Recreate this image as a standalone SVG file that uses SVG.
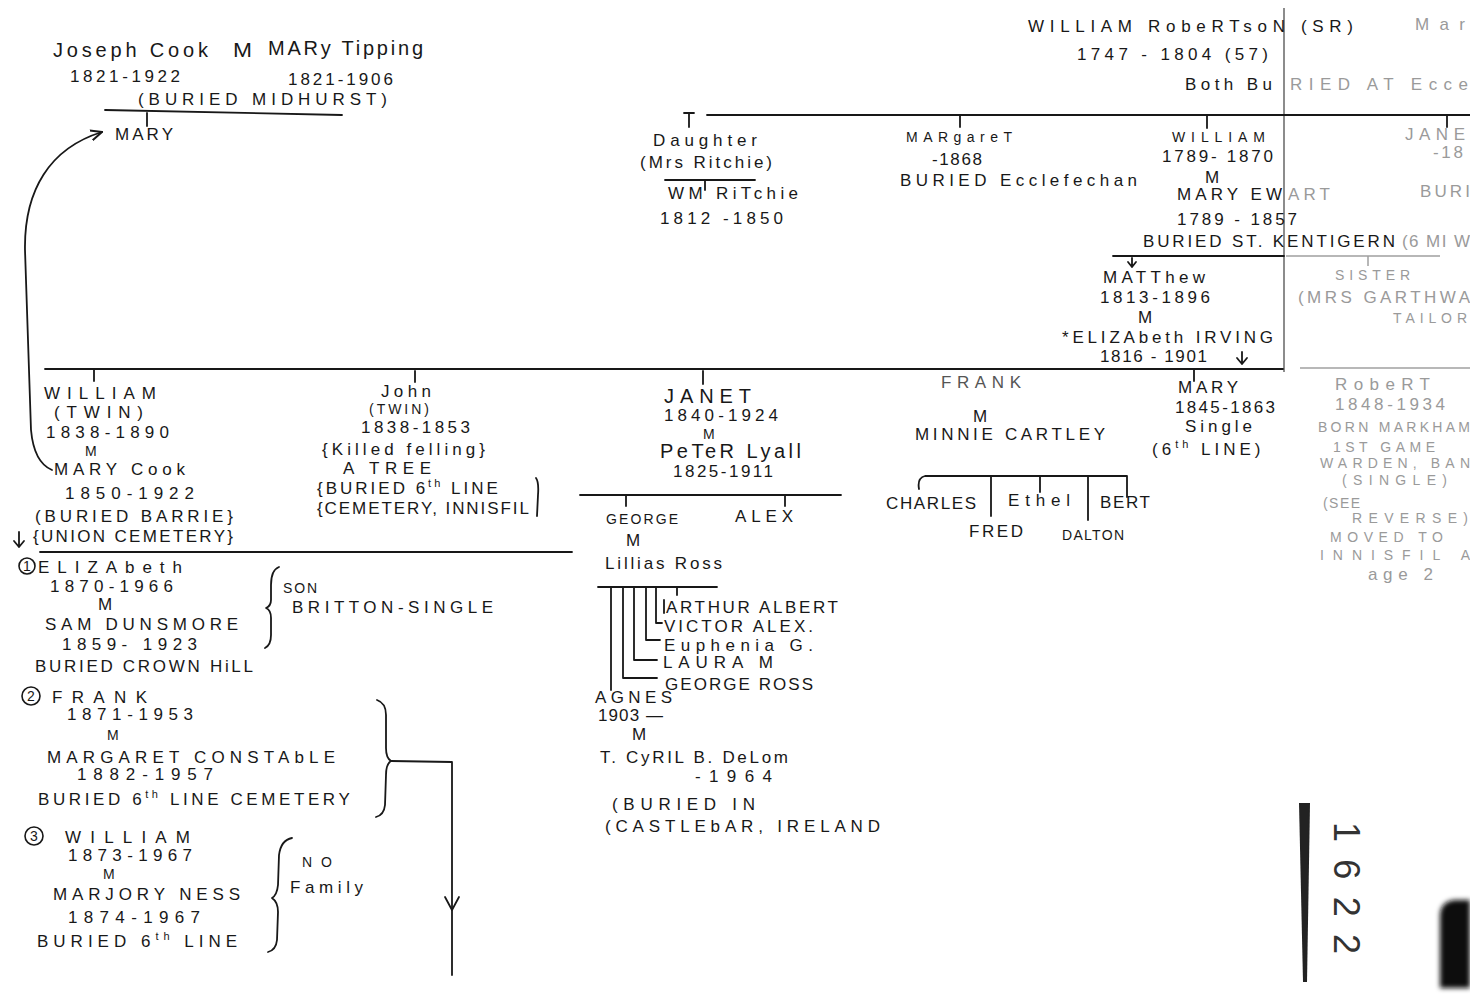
<svg xmlns="http://www.w3.org/2000/svg" width="1470" height="996" viewBox="0 0 1470 996">
<defs>
<style>
text{font-family:"Liberation Sans","DejaVu Sans",sans-serif;font-size:17px;fill:#181818}
.s{font-size:14px}
.b{font-size:20px}
.f{fill:#9a9a9a}
.g{fill:#555}
.sup{font-size:11px}
.ln{stroke:#181818;stroke-width:1.8;fill:none;stroke-linecap:round;stroke-linejoin:round}
.fl{stroke:#a0a0a0;stroke-width:1.5;fill:none}
</style>
<marker id="ah" viewBox="0 0 10 10" refX="9" refY="5" markerWidth="7" markerHeight="7" orient="auto"><path d="M0,1 L9,5 L0,9" fill="none" stroke="#181818" stroke-width="1.6"/></marker>
<filter id="bl" x="-20%" y="-20%" width="140%" height="140%"><feGaussianBlur stdDeviation="2.5"/></filter>
</defs>
<rect width="1470" height="996" fill="#fff"/>

<g id="connectors">
  <path d="M1284 8 V372" stroke="#666" stroke-width="1.5" fill="none"/>
  <path class="ln" d="M105 110 L342 115"/>
  <path class="ln" d="M147 113 V126"/>
  <path class="ln" d="M52 470 C40 465 33 452 31 430 L25 250 C24 190 50 148 102 132" marker-end="url(#ah)"/>
  <path class="ln" d="M707 115 H1470"/>
  <path class="ln" d="M684 113 H694 M689 113 V127"/>
  <path class="ln" d="M960 115 V127"/>
  <path class="ln" d="M1207 115 V128"/>
  <path class="ln" d="M1447 115 V127"/>
  <path class="ln" d="M665 180 H755 M705 180 V190"/>
  <path class="ln" d="M1113 256 H1284"/>
  <path class="fl" d="M1286 256 H1440 M1368 256 V266"/>
  <path class="ln" d="M1132 258 V267 M1128 262 L1132 267 L1136 262"/>
  <path class="ln" d="M45 369 H1283"/>
  <path class="fl" d="M1300 368 H1470"/>
  <path class="ln" d="M1242 352 V364 M1237 358 L1242 364 L1247 358"/>
  <path class="ln" d="M94 370 V381 M415 371 V382 M703 371 V384 M1194 370 V381"/>
  <path class="ln" d="M19 532 V547 M14 541 L19 547 L24 541"/>
  <path class="ln" d="M40 552 H572"/>
  <path class="ln" d="M536 478 Q539 482 538 495 L537 516"/>
  <path class="ln" d="M580 495 H841 M626 495 V506 M785 495 V506"/>
  <path class="ln" d="M598 587 H717 M677 587 V595"/>
  <path class="ln" d="M611 587 V690"/>
  <path class="ln" d="M623 587 V678 H657"/>
  <path class="ln" d="M634 587 V660 H657"/>
  <path class="ln" d="M646 587 V640 H660"/>
  <path class="ln" d="M656 587 V623 H662"/>
  <path class="ln" d="M664 600 V613"/>
  <path class="ln" d="M919 489 Q917 478 925 476 H1127 V497"/>
  <path class="ln" d="M991 476 V516 M1040 476 V492 M1088 476 V520"/>
  <path class="ln" d="M279 567 Q271 570 271 585 L271 600 Q271 606 266 608 Q271 610 271 618 L271 635 Q271 645 265 648"/>
  <path class="ln" d="M377 700 Q386 703 386 715 L386 748 Q386 758 391 761 Q386 764 386 775 L385 805 Q384 815 376 817"/>
  <path class="ln" d="M391 761 L452 762 L452 975"/>
  <path class="ln" d="M445 897 L452 910 L459 897"/>
  <path class="ln" d="M292 838 Q281 840 279 855 L278 885 Q277 895 272 898 Q278 902 278 912 L277 940 Q276 950 268 952"/>
</g>

<g id="cook-parents">
  <text class="b" x="53" y="57" textLength="155" lengthAdjust="spacing">Joseph Cook</text>
  <text class="b" x="233" y="57" textLength="19" lengthAdjust="spacingAndGlyphs">M</text>
  <text class="b" x="268" y="55" textLength="155" lengthAdjust="spacing">MARy Tipping</text>
  <text x="70" y="82" textLength="110" lengthAdjust="spacing">1821-1922</text>
  <text x="288" y="85" textLength="105" lengthAdjust="spacing">1821-1906</text>
  <text x="138" y="105" textLength="249" lengthAdjust="spacing">(BURIED MIDHURST)</text>
</g>
<g id="mary-cook-top">
  <text x="115" y="140" textLength="58" lengthAdjust="spacing">MARY</text>
</g>

<g id="william-robertson-sr">
  <text x="1028" y="32" textLength="325" lengthAdjust="spacing">WILLIAM RobeRTsoN (SR)</text>
  <text class="f" x="1415" y="30" textLength="50" lengthAdjust="spacing">Mar</text>
  <text x="1077" y="60" textLength="191" lengthAdjust="spacing">1747 - 1804 (57)</text>
  <text x="1185" y="90"><tspan textLength="87" lengthAdjust="spacing">Both Bu</tspan><tspan class="f" x="1290" textLength="178" lengthAdjust="spacing">RIED AT Ecce</tspan></text>
</g>

<g id="daughter-ritchie">
  <text x="653" y="146" textLength="104" lengthAdjust="spacing">Daughter</text>
  <text x="640" y="168" textLength="132" lengthAdjust="spacing">(Mrs Ritchie)</text>
  <text x="668" y="199" textLength="130" lengthAdjust="spacing">WM RiTchie</text>
  <text x="660" y="224" textLength="123" lengthAdjust="spacing">1812 -1850</text>
</g>

<g id="margaret">
  <text class="s" x="906" y="142" textLength="106" lengthAdjust="spacing">MARgareT</text>
  <text x="932" y="165" textLength="50" lengthAdjust="spacing">-1868</text>
  <text x="900" y="186" textLength="237" lengthAdjust="spacing">BURIED Ecclefechan</text>
</g>

<g id="william-ewart">
  <text class="s" x="1172" y="142" textLength="93" lengthAdjust="spacing">WILLIAM</text>
  <text x="1162" y="162" textLength="111" lengthAdjust="spacing">1789- 1870</text>
  <text x="1205" y="183" textLength="17" lengthAdjust="spacing">M</text>
  <text x="1177" y="200"><tspan textLength="105" lengthAdjust="spacing">MARY EW</tspan><tspan class="f" x="1288" textLength="42" lengthAdjust="spacing">ART</tspan></text>
  <text x="1177" y="225" textLength="120" lengthAdjust="spacing">1789 - 1857</text>
  <text x="1143" y="247"><tspan textLength="252" lengthAdjust="spacing">BURIED ST. KENTIGERN</tspan><tspan class="f" x="1402" textLength="68" lengthAdjust="spacing">(6 MI W</tspan></text>
</g>

<g id="jane">
  <text class="f" x="1405" y="140" textLength="60" lengthAdjust="spacing">JANE</text>
  <text class="f" x="1433" y="158" textLength="30" lengthAdjust="spacing">-18</text>
  <text class="f" x="1420" y="197" textLength="50" lengthAdjust="spacing">BURI</text>
</g>

<g id="matthew-irving">
  <text x="1103" y="283" textLength="102" lengthAdjust="spacing">MATThew</text>
  <text x="1100" y="303" textLength="110" lengthAdjust="spacing">1813-1896</text>
  <text x="1138" y="323" textLength="19" lengthAdjust="spacing">M</text>
  <text x="1062" y="343" textLength="211" lengthAdjust="spacing">*ELIZAbeth IRVING</text>
  <text x="1100" y="362" textLength="107" lengthAdjust="spacing">1816 - 1901</text>
</g>

<g id="sister">
  <text class="f s" x="1335" y="280" textLength="75" lengthAdjust="spacing">SISTER</text>
  <text class="f" x="1298" y="303" textLength="172" lengthAdjust="spacing">(MRS GARTHWA</text>
  <text class="f s" x="1393" y="323" textLength="74" lengthAdjust="spacing">TAILOR</text>
</g>

<g id="william-twin">
  <text x="44" y="399" textLength="112" lengthAdjust="spacing">WILLIAM</text>
  <text x="54" y="418" textLength="89" lengthAdjust="spacing">(TWIN)</text>
  <text x="46" y="438" textLength="123" lengthAdjust="spacing">1838-1890</text>
  <text class="s" x="85" y="456" textLength="14" lengthAdjust="spacing">M</text>
  <text x="54" y="475" textLength="131" lengthAdjust="spacing">MARY Cook</text>
  <text x="65" y="499" textLength="129" lengthAdjust="spacing">1850-1922</text>
  <text x="35" y="522" textLength="198" lengthAdjust="spacing">(BURIED BARRIE}</text>
  <text x="33" y="542" textLength="200" lengthAdjust="spacing">{UNION CEMETERY}</text>
</g>

<g id="john-twin">
  <text x="381" y="397" textLength="50" lengthAdjust="spacing">John</text>
  <text class="s" x="369" y="414" textLength="60" lengthAdjust="spacing">(TWIN)</text>
  <text x="361" y="433" textLength="109" lengthAdjust="spacing">1838-1853</text>
  <text x="322" y="455" textLength="163" lengthAdjust="spacing">{Killed felling}</text>
  <text x="343" y="474" textLength="88" lengthAdjust="spacing">A TREE</text>
  <text x="317" y="494" style="letter-spacing:3px">{BURIED 6<tspan class="sup" dy="-7">th</tspan><tspan dy="7"> LINE</tspan></text>
  <text x="317" y="514" textLength="212" lengthAdjust="spacing">{CEMETERY, INNISFIL</text>
</g>

<g id="janet-lyall">
  <text class="b" x="664" y="403" textLength="87" lengthAdjust="spacing">JANET</text>
  <text x="664" y="421" textLength="114" lengthAdjust="spacing">1840-1924</text>
  <text class="s" x="703" y="439" textLength="16" lengthAdjust="spacing">M</text>
  <text class="b" x="660" y="458" textLength="141" lengthAdjust="spacing">PeTeR Lyall</text>
  <text x="673" y="477" textLength="100" lengthAdjust="spacing">1825-1911</text>
</g>

<g id="george-lyall">
  <text class="s" x="606" y="524" textLength="72" lengthAdjust="spacing">GEORGE</text>
  <text x="626" y="546" textLength="16" lengthAdjust="spacing">M</text>
  <text x="605" y="569" textLength="117" lengthAdjust="spacing">Lillias Ross</text>
</g>
<g id="alex">
  <text x="735" y="522" textLength="58" lengthAdjust="spacing">ALEX</text>
</g>

<g id="lyall-children">
  <text x="666" y="613" textLength="172" lengthAdjust="spacing">ARTHUR ALBERT</text>
  <text x="664" y="632" textLength="149" lengthAdjust="spacing">VICTOR ALEX.</text>
  <text x="664" y="651" textLength="149" lengthAdjust="spacing">Euphenia G.</text>
  <text x="663" y="668" textLength="110" lengthAdjust="spacing">LAURA M</text>
  <text x="665" y="690" textLength="148" lengthAdjust="spacing">GEORGE ROSS</text>
</g>

<g id="agnes">
  <text x="595" y="703" textLength="77" lengthAdjust="spacing">AGNES</text>
  <text x="598" y="721" textLength="65" lengthAdjust="spacing">1903 —</text>
  <text x="632" y="740" textLength="16" lengthAdjust="spacing">M</text>
  <text x="600" y="763" textLength="188" lengthAdjust="spacing">T. CyRIL B. DeLom</text>
  <text x="695" y="782" textLength="77" lengthAdjust="spacing">-1964</text>
  <text x="612" y="810" textLength="143" lengthAdjust="spacing">(BURIED IN</text>
  <text x="605" y="832" textLength="275" lengthAdjust="spacing">(CASTLEbAR, IRELAND</text>
</g>

<g id="frank-cartley">
  <text class="g" x="941" y="388" textLength="80" lengthAdjust="spacing">FRANK</text>
  <text x="973" y="422" textLength="15" lengthAdjust="spacing">M</text>
  <text x="915" y="440" textLength="190" lengthAdjust="spacing">MINNIE CARTLEY</text>
</g>

<g id="cartley-children">
  <text x="886" y="509" textLength="90" lengthAdjust="spacing">CHARLES</text>
  <text x="1008" y="506" textLength="62" lengthAdjust="spacing">Ethel</text>
  <text x="1100" y="508" textLength="50" lengthAdjust="spacing">BERT</text>
  <text x="969" y="537" textLength="54" lengthAdjust="spacing">FRED</text>
  <text class="s" x="1062" y="540" textLength="62" lengthAdjust="spacing">DALTON</text>
</g>

<g id="mary-1845">
  <text x="1178" y="393" textLength="60" lengthAdjust="spacing">MARY</text>
  <text x="1175" y="413" textLength="100" lengthAdjust="spacing">1845-1863</text>
  <text x="1185" y="432" textLength="67" lengthAdjust="spacing">Single</text>
  <text x="1152" y="455" style="letter-spacing:4px">(6<tspan class="sup" dy="-7">th</tspan><tspan dy="7"> LINE)</tspan></text>
</g>

<g id="robert">
  <text class="f" x="1335" y="390" textLength="95" lengthAdjust="spacing">RobeRT</text>
  <text class="f" x="1335" y="410" textLength="110" lengthAdjust="spacing">1848-1934</text>
  <text class="f s" x="1318" y="432" textLength="152" lengthAdjust="spacing">BORN MARKHAM</text>
  <text class="f s" x="1333" y="452" textLength="102" lengthAdjust="spacing">1ST GAME</text>
  <text class="f s" x="1320" y="468" textLength="150" lengthAdjust="spacing">WARDEN, BAN</text>
  <text class="f s" x="1342" y="485" textLength="105" lengthAdjust="spacing">(SINGLE)</text>
  <text class="f s" x="1323" y="508" textLength="37" lengthAdjust="spacing">(SEE</text>
  <text class="f s" x="1352" y="523" textLength="116" lengthAdjust="spacing">REVERSE)</text>
  <text class="f s" x="1330" y="542" textLength="113" lengthAdjust="spacing">MOVED TO</text>
  <text class="f s" x="1320" y="560" textLength="150" lengthAdjust="spacing">INNISFIL A</text>
  <text class="f" x="1368" y="580" textLength="65" lengthAdjust="spacing">age 2</text>
</g>

<g id="elizabeth-dunsmore">
  <circle cx="27" cy="566" r="8" fill="none" stroke="#181818" stroke-width="1.6"/>
  <text class="s" x="23" y="571">1</text>
  <text x="38" y="573" textLength="144" lengthAdjust="spacing">ELIZAbeth</text>
  <text x="50" y="592" textLength="123" lengthAdjust="spacing">1870-1966</text>
  <text x="98" y="610" textLength="17" lengthAdjust="spacing">M</text>
  <text x="45" y="630" textLength="193" lengthAdjust="spacing">SAM DUNSMORE</text>
  <text x="62" y="650" textLength="135" lengthAdjust="spacing">1859- 1923</text>
  <text x="35" y="672" textLength="218" lengthAdjust="spacing">BURIED CROWN HiLL</text>
  <text class="s" x="283" y="593" textLength="34" lengthAdjust="spacing">SON</text>
  <text x="292" y="613" textLength="201" lengthAdjust="spacing">BRITTON-SINGLE</text>
</g>

<g id="frank-constable">
  <circle cx="31" cy="696" r="9" fill="none" stroke="#181818" stroke-width="1.6"/>
  <text class="s" x="27" y="701">2</text>
  <text x="52" y="703" textLength="95" lengthAdjust="spacing">FRANK</text>
  <text x="67" y="720" textLength="126" lengthAdjust="spacing">1871-1953</text>
  <text class="s" x="107" y="740" textLength="16" lengthAdjust="spacing">M</text>
  <text x="47" y="763" textLength="288" lengthAdjust="spacing">MARGARET CONSTAbLE</text>
  <text x="77" y="780" textLength="136" lengthAdjust="spacing">1882-1957</text>
  <text x="38" y="805" style="letter-spacing:3.6px">BURIED 6<tspan class="sup" dy="-7">th</tspan><tspan dy="7"> LINE CEMETERY</tspan></text>
</g>

<g id="william-ness">
  <circle cx="34" cy="836" r="9" fill="none" stroke="#181818" stroke-width="1.6"/>
  <text class="s" x="30" y="841">3</text>
  <text x="65" y="843" textLength="125" lengthAdjust="spacing">WILLIAM</text>
  <text x="68" y="861" textLength="124" lengthAdjust="spacing">1873-1967</text>
  <text class="s" x="103" y="879" textLength="18" lengthAdjust="spacing">M</text>
  <text x="53" y="900" textLength="187" lengthAdjust="spacing">MARJORY NESS</text>
  <text x="68" y="923" textLength="132" lengthAdjust="spacing">1874-1967</text>
  <text x="37" y="947" style="letter-spacing:5px">BURIED 6<tspan class="sup" dy="-7">th</tspan><tspan dy="7"> LINE</tspan></text>
  <text class="s" x="302" y="867" textLength="30" lengthAdjust="spacing">NO</text>
  <text x="290" y="893" textLength="73" lengthAdjust="spacing">Family</text>
</g>

<g id="page-marks">
  <polygon points="1299,803 1310,803 1307,982 1303,982" fill="#222"/>
  <text x="1334" y="822" transform="rotate(90 1334 822)" style="font-size:36px;fill:#333" textLength="132" lengthAdjust="spacing">1622</text>
  <path d="M1470 900 L1454 900 Q1440 902 1440 916 L1440 988 L1470 988 Z" fill="#111" filter="url(#bl)"/>
</g>
</svg>
